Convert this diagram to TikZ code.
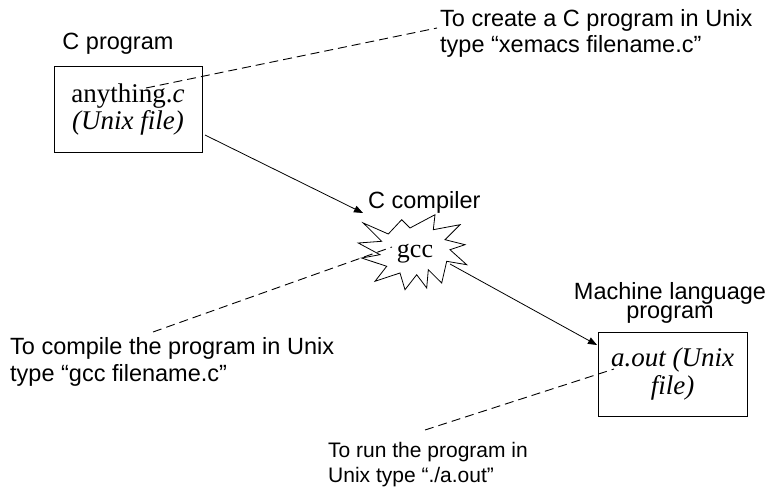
\documentclass[tikz,border=0pt]{standalone}
\usepackage{fontspec}
\setmainfont{Liberation Serif}
\setsansfont{Liberation Sans}
\usetikzlibrary{arrows.meta}
\begin{document}
\begin{tikzpicture}[x=1pt,y=-1pt,
  lbl/.style={font=\sffamily\fontsize{23.5}{18.5}\selectfont, inner sep=0, align=center},
  note/.style={font=\sffamily\fontsize{23.5}{27}\selectfont, inner sep=0, align=left},
  smallnote/.style={font=\sffamily\fontsize{21}{25}\selectfont, inner sep=0, align=left},
  filebox/.style={draw, line width=1pt, minimum width=148pt, minimum height=85pt,
    inner sep=0, align=center, font=\fontsize{27}{27.5}\selectfont},
  flow/.style={line width=0.8pt, -{Triangle[length=9pt,width=7pt]}},
  hint/.style={line width=0.9pt, dash pattern=on 9pt off 5pt}]
\useasboundingbox (0,0) rectangle (774,487);

% source file and executable
\node[filebox] (src) at (128,109.5) {anything.\textit{c}\\\textit{(Unix file)}};
\node[filebox, minimum height=84pt, minimum width=149pt] (exe) at (672.5,374)
  {\textit{a.out (Unix}\\\textit{file)}};

% compiler burst
\draw[line width=0.8pt, line join=miter]
  (363.3,223) -- (388.3,234) -- (401.7,219.7) -- (410,228) -- (435,214.7)
  -- (433.3,229.7) -- (460,224.7) -- (445,239.7) -- (465,244.7) -- (450,249.7)
  -- (466.7,264.7) -- (446.7,261.3) -- (441.7,283) -- (428.3,269.7)
  -- (426.7,288) -- (416.7,274.7) -- (405,289.7) -- (400,273) -- (375,281.3)
  -- (386.7,266.3) -- (361.7,258) -- (380,254.7) -- (358.3,243) -- (381.7,241.3)
  -- cycle;
\node[font=\fontsize{26}{26}\selectfont, inner sep=0, anchor=base] (gcc) at (415,257.5) {gcc};

% captions (base anchor of a two-line node sits on its last line)
\node[lbl, anchor=base] (cprog) at (118,50) {C program};
\node[lbl, anchor=base west] (ccomp) at (368,208) {C compiler};
\node[lbl, anchor=base] (mach) at (670,318) {Machine language\\program};

% notes
\node[note, anchor=base west] (create) at (440,53) {To create a C program in Unix\\type “xemacs filename.c”};
\node[note, anchor=base west] (compile) at (10,381) {To compile the program in Unix\\type “gcc filename.c”};
\node[smallnote, anchor=base west] (run) at (328,482) {To run the program in\\Unix type “./a.out”};

% connector end points
\coordinate (srcout) at (205,135);
\coordinate (gccin) at (363,213);
\coordinate (gccout) at (450,264);
\coordinate (exein) at (597,345);
\coordinate (srcmark) at (146,88);
\coordinate (createtip) at (437,28);
\coordinate (gccmark) at (392,247);
\coordinate (compiletip) at (153,332);
\coordinate (exemark) at (614,369);
\coordinate (runtip) at (425,430);

% flow
\draw[flow] (srcout) -- (gccin);
\draw[flow] (gccout) -- (exein);

% hints
\draw[hint] (srcmark) -- (createtip);
\draw[hint] (compiletip) -- (gccmark);
\draw[hint] (runtip) -- (exemark);
\end{tikzpicture}
\end{document}
